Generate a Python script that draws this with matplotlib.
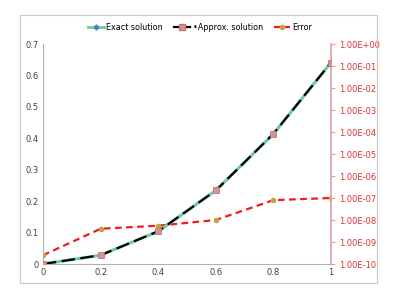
import matplotlib

matplotlib.use("Agg")
import matplotlib.pyplot as plt
from matplotlib.lines import Line2D
from matplotlib.patches import Rectangle

x = [0, 0.2, 0.4, 0.6, 0.8, 1.0]
exact = [0.0, 0.028, 0.104, 0.234, 0.414, 0.641]
approx = [0.0, 0.028, 0.104, 0.234, 0.414, 0.641]
error = [2.5e-10, 4e-9, 5.5e-9, 1e-8, 8e-8, 1e-7]

left_ticks = [0, 0.1, 0.2, 0.3, 0.4, 0.5, 0.6, 0.7]
left_labels = ["0", "0.1", "0.2", "0.3", "0.4", "0.5", "0.6", "0.7"]
x_ticks = [0, 0.2, 0.4, 0.6, 0.8, 1]
x_labels = ["0", "0.2", "0.4", "0.6", "0.8", "1"]
right_ticks = [10.0 ** -k for k in range(0, 11)]
right_labels = ["1.00E+00", "1.00E-01", "1.00E-02", "1.00E-03", "1.00E-04", "1.00E-05",
                "1.00E-06", "1.00E-07", "1.00E-08", "1.00E-09", "1.00E-10"]

plt.rcParams["font.family"] = ["DejaVu Sans"]
fig = plt.figure(figsize=(3.99, 2.89), dpi=100)
ax = fig.add_axes([43 / 399, 1 - 264 / 289, (331 - 43) / 399, (264 - 44) / 289])

# outer chart frame
fig.patches.append(Rectangle((20 / 399, 1 - 283 / 289), 357 / 399, 268 / 289,
                             transform=fig.transFigure, fill=False,
                             edgecolor="#c8c8c8", lw=0.8))

green = "#72c9a0"
ax.plot(x, exact, color=green, lw=2.2, marker="D", markersize=2.5,
        markerfacecolor="#4a7fc1", markeredgecolor="#4a7fc1", zorder=3)
ax.plot(x, approx, color="black", lw=1.6, ls=(0, (6, 2.5)), marker="s", markersize=5,
        markerfacecolor="#d99090", markeredgecolor="#c07878", markeredgewidth=0.6, zorder=4)

ax.set_xlim(0, 1)
ax.set_ylim(0, 0.7)
ax.set_xticks(x_ticks, x_labels)
ax.set_yticks(left_ticks, left_labels)
ax.tick_params(length=0, labelsize=6, colors="#404040", pad=3)
for s in ["top", "right"]:
    ax.spines[s].set_visible(False)
for s in ["left", "bottom"]:
    ax.spines[s].set_color("#b0b0b0")
    ax.spines[s].set_linewidth(0.8)

ax2 = ax.twinx()
ax2.set_yscale("log")
ax2.set_ylim(1e-10, 1)
ax2.plot(x, error, color="#ee1c1c", lw=1.6, ls=(0, (3, 2)), marker="o", markersize=3,
         markerfacecolor="#c8a040", markeredgecolor="#c8a040", zorder=2)
ax2.set_yticks(right_ticks, right_labels)
ax2.minorticks_off()
ax2.tick_params(axis="y", direction="out", length=3, width=0.8, color="#e0a0a0",
                labelsize=6, labelcolor="#e03030", pad=3)
for s in ["top", "left", "bottom"]:
    ax2.spines[s].set_visible(False)
ax2.spines["right"].set_color("#e0a0a0")
ax2.spines["right"].set_linewidth(1.2)
ax.set_zorder(ax2.get_zorder() + 1)
ax.patch.set_visible(False)

handles = [
    Line2D([], [], color=green, lw=2, marker="D", markersize=2.5,
           markerfacecolor="#4a7fc1", markeredgecolor="#4a7fc1"),
    Line2D([], [], color="black", lw=1.6, marker="s", markersize=4,
           markerfacecolor="#d99090", markeredgecolor="#c07878"),
    Line2D([], [], color="#ee1c1c", lw=1.6, ls=(0, (3, 2)), marker="o", markersize=3,
           markerfacecolor="#c8a040", markeredgecolor="#c8a040"),
]
fig.legend(handles, ["Exact solution", "\u2022Approx. solution", "Error"],
           loc="center", bbox_to_anchor=(200 / 399, 1 - 27 / 289), ncol=3,
           frameon=False, fontsize=5.8, handlelength=2.0, handletextpad=0.3,
           columnspacing=1.4)

fig.savefig("out.png", dpi=100)
